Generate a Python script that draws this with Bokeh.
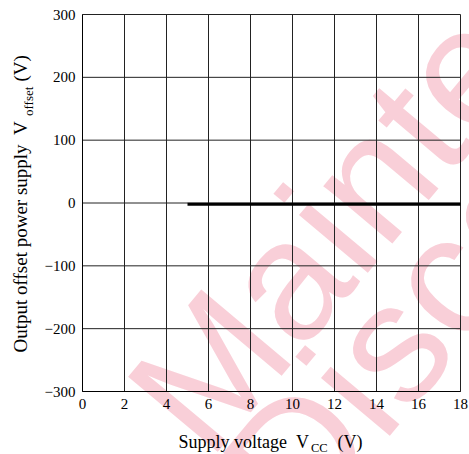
import math
from bokeh.plotting import figure
from bokeh.models import Label, FixedTicker, Range1d, LinearAxis
from bokeh.embed import file_html
from bokeh.resources import INLINE

# ---- data ----
x_ticks = [0, 2, 4, 6, 8, 10, 12, 14, 16, 18]
y_ticks = [-300, -200, -100, 0, 100, 200, 300]
y_tick_labels = ["\u2212300", "\u2212200", "\u2212100", "0", "100", "200", "300"]
vcc = [5, 18]
v_offset = [-2, -2]

# ---- layout helpers (canvas px -> data) ----
W, H = 469, 454
FL, FR, FT, FB = 82, 460, 14, 391
XMIN, XMAX = 0, 18
YMIN, YMAX = -300, 300
def X(px):
    return XMIN + (px - FL) / (FR - FL) * (XMAX - XMIN)
def Y(py):
    return YMAX - (py - FT) / (FB - FT) * (YMAX - YMIN)

p = figure(width=W, height=H, x_range=Range1d(X(0), X(W)), y_range=Range1d(Y(H), Y(0)),
           output_backend="svg", toolbar_location=None,
           min_border_left=0, min_border_right=0, min_border_top=0, min_border_bottom=0,
           x_axis_type=None, y_axis_type=None)

p.background_fill_color = "white"
p.border_fill_color = "white"
p.outline_line_color = None
p.grid.visible = False

SERIF = "Liberation Serif"
NB = "\u00a0"

# watermark (behind everything)
wm_color = "#F9CFD8"
for txt, px, py in [("Maintenance", 163, 424), ("Discontinued", 258, 500)]:
    p.add_layout(Label(x=X(px), y=Y(py), text=txt, angle=math.radians(50),
                       text_font="Liberation Sans", text_font_size="170px",
                       text_color=wm_color, text_baseline="alphabetic",
                       text_align="left", level="image"))

# grid + frame
p.segment(x0=x_ticks, y0=[YMIN] * len(x_ticks), x1=x_ticks, y1=[YMAX] * len(x_ticks),
          line_color="#222222", line_width=1)
p.segment(x0=[XMIN] * len(y_ticks), y0=y_ticks, x1=[XMAX] * len(y_ticks), y1=y_ticks,
          line_color="#222222", line_width=1)

# axes placed at the frame edges
xaxis = LinearAxis(fixed_location=YMIN, bounds=(XMIN, XMAX), ticker=FixedTicker(ticks=x_ticks))
yaxis = LinearAxis(fixed_location=XMIN, bounds=(YMIN, YMAX), ticker=FixedTicker(ticks=y_ticks))
yaxis.major_label_overrides = {t: l for t, l in zip(y_ticks, y_tick_labels)}
for ax in (xaxis, yaxis):
    ax.axis_line_color = "black"
    ax.major_tick_line_color = None
    ax.minor_tick_line_color = None
    ax.major_tick_out = 0
    ax.major_tick_in = 0
    ax.major_label_text_font = SERIF
    ax.major_label_text_font_size = "15px"
    ax.major_label_text_color = "black"
    ax.major_label_standoff = 7
p.add_layout(xaxis, "below")
p.add_layout(yaxis, "left")

p.line(vcc, v_offset, line_color="black", line_width=3)

def lab(text, px, py, size, angle=0.0):
    p.add_layout(Label(x=X(px), y=Y(py), text=text, angle=angle,
                       text_font=SERIF, text_font_size=size, text_color="black",
                       text_baseline="alphabetic", text_align="left"))

# x axis label with subscript
lab("Supply voltage" + NB + NB + "V", 178, 441, "18px")
lab("CC", 310.5, 447.5, "12.5px")
lab("(V)", 337, 441, "18px")

# y axis label with subscript (rotated)
a = math.pi / 2
lab("Output offset power supply" + NB + NB + "V", 20, 352, "19px", a)
lab("offset", 27.5, 115.5, "13px", a)
lab("(V)", 20, 81, "19px", a)

open("out.html", "w").write(file_html(p, INLINE))
